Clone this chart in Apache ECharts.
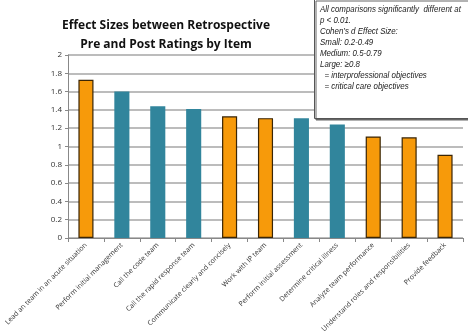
<!DOCTYPE html>
<html><head><meta charset="utf-8">
<script src="https://cdn.jsdelivr.net/npm/echarts@6/dist/echarts.min.js"></script>
<style>html,body{margin:0;padding:0;background:#fff}#c{width:468px;height:334px}</style>
</head><body><div id="c"></div>
<script>
var categories = ["Lead an team in an acute situation","Perform initial management","Call the code team","Call the rapid response team","Communicate clearly and concisely","Work with IP team","Perform initial assessment","Determine critical illness","Analyze team performance","Understand roles and responsibilities","Provide feedback"];
var effectSizes = [1.73, 1.60, 1.44, 1.41, 1.33, 1.31, 1.31, 1.24, 1.11, 1.10, 0.91];
var objectiveType = ["ip","cc","cc","cc","ip","ip","cc","cc","ip","ip","ip"];
var yTicks = [0, 0.2, 0.4, 0.6, 0.8, 1, 1.2, 1.4, 1.6, 1.8, 2];
var titleLines = ["Effect Sizes between Retrospective", "Pre and Post Ratings by Item"];
var noteLines = ["All comparisons significantly  different at", "p < 0.01.", "Cohen\u2019s d Effect Size:", "Small: 0.2-0.49", "Medium: 0.5-0.79", "Large: \u22650.8", "  = interprofessional objectives", "  = critical care objectives"];

var ORANGE = '#F79A0A', TEAL = '#31859C';
var data = effectSizes.map(function(v, i){
  var ip = objectiveType[i] === 'ip';
  return {value: v, itemStyle: ip ? {color: ORANGE, borderColor: '#3a2505', borderWidth: 1.2} : {color: TEAL, borderWidth: 0}};
});
var chart = echarts.init(document.getElementById('c'));
var font = "Open Sans, Liberation Sans, sans-serif";
chart.setOption({
  animation: false,
  grid: {left: 68, right: 5, top: 55, bottom: 96, containLabel: false, outerBoundsMode: 'none'},
  xAxis: {type: 'category', data: categories,
    axisLine: {lineStyle: {color: '#888', width: 1}},
    axisTick: {show: true, alignWithLabel: false, length: 4, lineStyle: {color: '#888'}},
    axisLabel: {rotate: 45, interval: 0, fontSize: 7, color: '#333', fontFamily: font, margin: 6}},
  yAxis: {type: 'value', min: 0, max: 2, interval: 0.2,
    axisLine: {show: true, lineStyle: {color: '#888'}},
    axisTick: {show: true, length: 3, lineStyle: {color: '#888'}},
    splitLine: {lineStyle: {color: '#a6a6a6', width: 1.5}},
    axisLabel: {fontSize: 8, color: '#333', fontFamily: font, margin: 6,
      formatter: function(v){ var t = yTicks.filter(function(x){return Math.abs(x-v)<1e-9;}); return t.length ? String(t[0]) : ''; }}},
  series: [{type: 'bar', data: data, barWidth: '42%'}],
  graphic: [
    {type: 'text', x: 166, y: 16, z: 11,
      style: {text: titleLines.join('\n'), font: 'bold 12px ' + font, lineHeight: 19, fill: '#111', align: 'center'}},
    {type: 'rect', left: 314, top: -1, shape: {width: 170, height: 119},
      style: {fill: '#fff', stroke: '#555', lineWidth: 1, shadowColor: '#666', shadowOffsetX: 1.5, shadowOffsetY: 1.5, shadowBlur: 0}, z: 10},
    {type: 'text', x: 320, y: 4, scaleX: 0.88, z: 11,
      style: {text: noteLines.join('\n'), font: 'italic 9px Liberation Sans, Arial, sans-serif', lineHeight: 11, fill: '#222'}}
  ]
});
</script></body></html>
